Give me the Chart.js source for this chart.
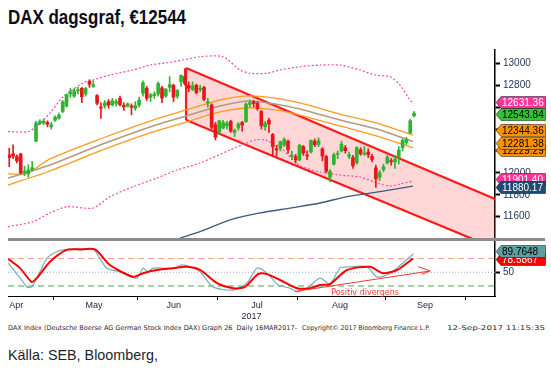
<!DOCTYPE html>
<html>
<head>
<meta charset="utf-8">
<script src="https://cdn.jsdelivr.net/npm/chart.js@4.4.1/dist/chart.umd.min.js"></script>
<style>
html,body{margin:0;padding:0;background:#fff;}
body{width:551px;height:379px;position:relative;overflow:hidden;}
.t{position:absolute;white-space:nowrap;transform-origin:0 50%;}
#title{left:8px;top:7px;font:bold 20px/20px "Liberation Sans Narrow","Liberation Sans",Arial,sans-serif;color:#0d0d1a;}
#src{left:8px;top:347px;font:15px/15px "Liberation Sans Narrow","Liberation Sans",Arial,sans-serif;color:#1e1e2a;}
.ft{top:325px;font:6.5px/7px "DejaVu Sans",sans-serif;color:#2a2a2a;}
#sep{position:absolute;left:8px;top:238px;width:537px;height:3px;background:#8c8c8c;}
canvas{position:absolute;left:0;}
#c1{top:0}
#c2{top:241px}
</style>
</head>
<body>
<div id="title" class="t" data-w="178">DAX dagsgraf, €12544</div>
<canvas id="c1" width="551" height="238"></canvas>
<div id="sep"></div>
<canvas id="c2" width="551" height="81"></canvas>
<div class="t ft" style="left:8px" data-w="289">DAX Index (Deutsche Boerse AG German Stock Index DAX) Graph 26&nbsp; Daily 16MAR2017-</div>
<div class="t ft" style="left:302px" data-w="128">Copyright© 2017 Bloomberg Finance L.P.</div>
<div class="t ft" style="left:447px" data-w="98">12-Sep-2017 11:15:35</div>
<div id="src" class="t" data-w="150">Källa: SEB, Bloomberg,</div>
<script>
// ---------- DATA ----------
const tradingDays = ['04-11','04-12','04-13','04-18','04-19','04-20','04-21','04-24','04-25','04-26','04-27','04-28',
 '05-02','05-03','05-04','05-05','05-08','05-09','05-10','05-11','05-12','05-15','05-16','05-17','05-18','05-19','05-22','05-23','05-24','05-25','05-26','05-29','05-30','05-31',
 '06-01','06-02','06-06','06-07','06-08','06-09','06-12','06-13','06-14','06-15','06-16','06-19','06-20','06-21','06-22','06-23','06-26','06-27','06-28','06-29','06-30',
 '07-03','07-04','07-05','07-06','07-07','07-10','07-11','07-12','07-13','07-14','07-17','07-18','07-19','07-20','07-21','07-24','07-25','07-26','07-27','07-28','07-31',
 '08-01','08-02','08-03','08-04','08-07','08-08','08-09','08-10','08-11','08-14','08-15','08-16','08-17','08-18','08-21','08-22','08-23','08-24','08-25','08-28','08-29','08-30','08-31',
 '09-01','09-04','09-05','09-06','09-07','09-08','09-11','09-12'];

const openP = [12163,12175,12148,12172,12005,11990,12030,12290,12450,12455,12460,12420,
 12480,12500,12560,12610,12720,12700,12750,12772,12720,12835,12790,12705,12600,12610,12650,12620,12635,12680,12615,12610,12610,12590,
 12620,12726,12772,12690,12705,12720,12775,12700,12780,12800,12700,12832,12880,12800,12760,12800,12760,12780,12640,12620,12440,
 12370,12410,12430,12470,12370,12410,12460,12467,12625,12650,12635,12560,12420,12480,12350,12220,12224,12254,12290,12150,12150,
 12117,12240,12160,12190,12290,12260,12220,12150,11960,12080,12170,12200,12230,12150,12140,12090,12210,12170,12190,12150,12045,11960,12030,
 12090,12110,12100,12135,12230,12275,12363,12520];
const highP = [12224,12256,12165,12180,12060,12075,12105,12470,12485,12490,12475,12460,
 12520,12545,12660,12720,12770,12770,12780,12780,12780,12850,12841,12715,12640,12660,12670,12680,12670,12700,12640,12640,12630,12650,
 12690,12840,12790,12725,12740,12830,12790,12770,12878,12810,12760,12895,12951,12830,12830,12810,12800,12790,12680,12630,12460,
 12480,12480,12470,12480,12400,12460,12470,12640,12665,12660,12650,12570,12470,12500,12360,12250,12290,12320,12300,12200,12170,
 12260,12250,12200,12300,12310,12320,12230,12160,12030,12180,12200,12290,12250,12190,12160,12240,12230,12240,12220,12170,12070,12020,12080,
 12160,12130,12160,12240,12310,12325,12490,12560];
const lowP = [12056,12130,12090,11990,11975,11960,12015,12285,12440,12440,12420,12400,
 12470,12490,12550,12600,12690,12690,12720,12640,12700,12780,12780,12620,12498,12590,12590,12610,12610,12610,12570,12600,12530,12570,
 12600,12700,12660,12650,12680,12700,12640,12690,12740,12650,12680,12790,12800,12740,12750,12720,12740,12660,12600,12400,12300,
 12350,12400,12400,12370,12330,12390,12380,12460,12600,12600,12570,12400,12390,12370,12148,12150,12200,12240,12180,12120,12090,
 12110,12160,12120,12180,12240,12240,12110,12000,11920,12070,12130,12190,12180,12130,12040,12080,12160,12160,12140,12100,11868,11930,12010,
 12080,12070,12040,12080,12200,12260,12360,12510];
const closeP = [12139,12150,12109,12000,12016,12027,12048,12455,12467,12472,12443,12438,
 12507,12527,12648,12716,12740,12749,12757,12695,12770,12808,12804,12635,12590,12638,12619,12659,12650,12622,12602,12629,12599,12615,
 12664,12822,12680,12714,12720,12815,12683,12765,12806,12691,12753,12889,12814,12774,12794,12733,12771,12671,12647,12416,12325,
 12475,12460,12453,12381,12389,12445,12437,12627,12641,12632,12587,12430,12452,12447,12240,12209,12285,12305,12212,12162,12118,
 12251,12181,12154,12298,12258,12293,12154,12014,12014,12165,12177,12263,12203,12166,12065,12229,12174,12180,12168,12123,11946,12002,12056,
 12143,12102,12124,12208,12297,12304,12476,12544];

// sparse line readings: [dayIndex, value]
const maMid   = [[-0.33,11953],[10.67,12072],[23.77,12254],[36.86,12419],[46.29,12519],[55.2,12610],[62.3,12656],[69.6,12629],[76.1,12583],[86.6,12483],[97.1,12391],[105.7,12284]];
const maUpper = [[-0.33,11990],[4.64,11996],[10.67,12127],[23.77,12309],[36.86,12473],[46.29,12574],[55.2,12665],[62.3,12702],[69.6,12683],[76.1,12638],[86.6,12537],[97.1,12446],[105.7,12344]];
const maLower = [[-0.33,11889],[10.67,12017],[23.77,12200],[36.86,12364],[46.29,12464],[55.2,12556],[62.3,12592],[69.6,12574],[76.1,12528],[86.6,12428],[97.1,12327],[105.7,12229]];
const bbUpper = [[-0.33,12376],[4.9,12376],[7.26,12428],[10.67,12546],[14.07,12692],[19.31,12820],[21.93,12848],[26.38,12893],[32.41,12939],[36.86,12984],[41.31,13005],[45.5,13030],[49.95,13060],[55.98,13060],[60.43,12939],[63.05,12909],[67.5,12909],[70.9,12939],[76.15,12969],[81.4,12984],[86.6,12984],[91.9,12939],[95.8,12893],[99.72,12878],[102.3,12802],[104.97,12665],[106,12631]];
const bbLower = [[-0.33,11509],[6.21,11554],[10.67,11634],[15.12,11691],[21.93,11679],[26.38,11783],[32.41,11874],[38.69,11953],[43.93,12026],[49.95,12090],[57.81,12209],[64.36,12300],[66.98,12300],[70.9,12236],[73.53,12145],[76.15,12063],[81.4,12008],[86.6,11980],[91.86,11962],[97.1,11898],[99.72,11880],[102.3,11898],[105.7,11926]];
const ma200   = [[44.72,11405],[49.95,11463],[57.81,11570],[65.67,11634],[73.53,11679],[81.4,11725],[88.46,11783],[97.1,11828],[105.7,11880]];
const channelUpper = [[46.3,12957],[127.2,11762]];
const channelLower = [[46.3,12483],[127.2,11312]];

const stochK = [[-0.25,70],[3.6,29],[4.57,18],[5.87,18],[8.05,51],[9.8,80],[12.42,95],[15.04,100],[22,100],[23.76,80],[25.52,59],[29,51],[33.38,37],[35.03,59],[36.34,51],[37.64,59],[40.26,59],[43.41,59],[45.16,66],[47.34,62],[49.95,51],[53.36,18],[58.6,11],[62.19,26],[64.81,59],[66.46,55],[68.74,37],[70.39,22],[73.53,15],[75.28,7],[77.9,15],[81.4,37],[84,24],[86.6,59],[89.2,62],[93.6,62],[96.2,40],[98.86,44],[101.5,59],[105.8,90]];
const stochD = [[-0.25,79],[2.81,59],[5.87,29],[7.18,37],[10.67,73],[15.04,99],[18.53,100],[22.45,100],[26.38,66],[32.41,40],[35.03,48],[38.69,55],[42.88,59],[46.55,62],[49.95,55],[54.41,26],[58.6,15],[61.74,18],[65.15,46],[67.5,46],[70.9,33],[75.36,15],[78.77,15],[81.4,22],[84,24],[88.46,55],[94.48,62],[97.88,48],[101.55,55],[105.7,80]];
const divergenceLine = [[74.8,7.9],[110.2,52.8]];
const divergenceHead = [[107.1,62.2],[110.2,52.8],[108,45.5]];
const stochLevels = [80, 50, 20];

const priceTicks = [11600,11800,12000,12200,12400,12600,12800,13000];
const stochTicks = [50];
const monthBounds = [11.5,33.5,54.5,75.5,98.5,119.5];
const monthLabels = ['Apr','May','Jun','Jul','Aug','Sep'];
const monthLabelPos = [1.8,22.2,43.1,64.9,86.6,108.9];

const priceTagValues = [12631.36,12543.84,12344.36,12229.29,12281.38,11901.40,11880.17];
const stochTagValues = [78.5867,89.7648];

const X_MIN = -0.33, X_MAX = 127.2;
const Y_MIN = 11405.6, Y_MAX = 13121.4;
const S_MIN = -2, S_MAX = 118.5;

// ---------- STYLE ----------
const GREEN = '#2db52d', RED = '#e8161b';
const FONT = '"Liberation Sans", Arial, sans-serif';
const pts = a => a.map(p => ({x:p[0], y:p[1]}));
function line(data, color, width, dash, order, extra){
  return Object.assign({type:'line', data:pts(data), borderColor:color, borderWidth:width, borderDash:dash||[],
    pointRadius:0, fill:false, tension:0.25, order:order}, extra||{});
}
const candleColor = ctx => (closeP[ctx.dataIndex] >= openP[ctx.dataIndex] ? GREEN : RED);

const tagPlugin = {
  id:'tags',
  afterDraw(chart, args, o){
    const s = chart.scales[o.scaleId], c = chart.ctx;
    c.save();
    c.font = '10px ' + FONT;
    c.textBaseline = 'middle';
    o.items.forEach(t => {
      const cy = Math.round(s.getPixelForValue(t.value) + (t.dy||0)) + 0.5;
      const x0 = s.left + 1, x1 = x0 + 5, x2 = 545.5, h = 6;
      c.beginPath(); c.moveTo(x0, cy); c.lineTo(x1, cy-h); c.lineTo(x2, cy-h); c.lineTo(x2, cy+h); c.lineTo(x1, cy+h); c.closePath();
      c.fillStyle = t.bg; c.fill();
      c.strokeStyle = 'rgba(0,0,0,0.45)'; c.lineWidth = 1; c.stroke();
      c.fillStyle = t.fg; c.textAlign = 'left';
      c.fillText(t.text, x1 + 1, cy + 0.5);
    });
    c.restore();
  }
};
const notePlugin = {
  id:'notes',
  afterDatasetsDraw(chart, args, o){
    const c = chart.ctx;
    c.save();
    (o.items||[]).forEach(n => {
      c.font = n.font; c.fillStyle = n.color; c.textBaseline = 'middle'; c.textAlign = 'left';
      c.fillText(n.text, chart.scales.x.getPixelForValue(n.x), chart.scales[n.scale].getPixelForValue(n.y));
    });
    c.restore();
  }
};

// ---------- MAIN PRICE CHART ----------
const idx = closeP.map((_, i) => i);
const wickData = idx.map(i => ({x:i, y:[lowP[i], highP[i]]}));
const bodyData = idx.map(i => ({x:i, y:[Math.min(openP[i], closeP[i]), Math.max(openP[i], closeP[i])]}));

const mainDatasets = [
  line(channelUpper, '#ff1a1a', 2.2, null, 20, {tension:0}),
  line(channelLower, '#ff1a1a', 2.2, null, 19, {tension:0, fill:{target:0}, backgroundColor:'rgba(255,45,45,0.19)'}),
  line([[channelUpper[0][0], channelUpper[0][1]],[channelLower[0][0], channelLower[0][1]]], '#ff1a1a', 2.2, null, 18, {tension:0}),
  line(bbUpper, '#f54aa8', 1.2, [2,2], 9),
  line(bbLower, '#f54aa8', 1.2, [2,2], 9),
  line(maUpper, '#ff9a1f', 1.3, null, 8),
  line(maLower, '#ff9a1f', 1.3, null, 8),
  line(maMid, '#b49a80', 1.6, null, 7),
  line(ma200, '#3a5a80', 1.3, null, 6),
  {type:'bar', data:wickData, backgroundColor:candleColor, barThickness:1, grouped:false, order:2},
  {type:'bar', data:bodyData, backgroundColor:candleColor, barThickness:3, grouped:false, minBarLength:1, order:1}
];

new Chart(document.getElementById('c1'), {
  type:'line',
  data:{datasets:mainDatasets},
  plugins:[tagPlugin],
  options:{
    responsive:false, animation:false, devicePixelRatio:1,
    layout:{padding:{left:8, top:50, right:0, bottom:0}},
    plugins:{legend:{display:false}, tooltip:{enabled:false},
      tags:{scaleId:'y', items:[
        {value:priceTagValues[0], text:priceTagValues[0].toFixed(2), bg:'#ff3399', fg:'#fff', dy:-2},
        {value:priceTagValues[1], text:priceTagValues[1].toFixed(2), bg:'#33c433', fg:'#000', dy:0.5},
        {value:priceTagValues[2], text:priceTagValues[2].toFixed(2), bg:'#ff9100', fg:'#000', dy:-5},
        {value:priceTagValues[3], text:priceTagValues[3].toFixed(2), bg:'#ff9100', fg:'#000', dy:2},
        {value:priceTagValues[4], text:priceTagValues[4].toFixed(2), bg:'#ff9100', fg:'#000', dy:1},
        {value:priceTagValues[5], text:priceTagValues[5].toFixed(2), bg:'#ff3399', fg:'#fff', dy:-5},
        {value:priceTagValues[6], text:priceTagValues[6].toFixed(2), bg:'#1f4a73', fg:'#fff', dy:1}
      ]}},
    scales:{
      x:{type:'linear', min:X_MIN, max:X_MAX, display:false, offset:false},
      y:{position:'right', min:Y_MIN, max:Y_MAX,
        afterBuildTicks: s => { s.ticks = priceTicks.map(v => ({value:v})); },
        afterFit: s => { s.width = 56; s.paddingTop = 0; s.paddingBottom = 0; },
        grid:{drawOnChartArea:false, drawTicks:true, tickLength:5, tickWidth:2, tickColor:'#000'},
        border:{display:true, color:'#000', width:1.5},
        ticks:{color:'#1b3355', font:{family:FONT, size:10}, padding:3, callback: v => String(v)}
      }
    }
  }
});

// ---------- STOCHASTIC CHART ----------
const xTickVals = monthBounds.concat(monthLabelPos).sort((a,b) => a-b);
const labelMap = new Map(monthLabelPos.map((v,i) => [v, monthLabels[i]]));
const levelStyles = [['#f5a088',[6,4]],['#9aacbf',[1,2]],['#4aa84a',[6,4]]];

const stochDatasets = stochLevels.map((lv, i) => line([[X_MIN, lv],[X_MAX, lv]], levelStyles[i][0], 1, levelStyles[i][1], 10, {tension:0}));
stochDatasets.push(
  line(stochK, '#78aeb0', 1.2, null, 3),
  line(stochD, '#ff0000', 2, null, 2),
  line(divergenceLine, '#ff3333', 1, null, 1, {tension:0}),
  line(divergenceHead, '#ff3333', 1, null, 1, {tension:0})
);

new Chart(document.getElementById('c2'), {
  type:'line',
  data:{datasets:stochDatasets},
  plugins:[tagPlugin, notePlugin],
  options:{
    responsive:false, animation:false, devicePixelRatio:1,
    layout:{padding:{left:8, top:0, right:0, bottom:0}},
    plugins:{legend:{display:false}, tooltip:{enabled:false},
      tags:{scaleId:'y', items:[
        {value:stochTagValues[0], text:stochTagValues[0].toFixed(4), bg:'#ff0000', fg:'#fff', dy:0},
        {value:stochTagValues[1], text:stochTagValues[1].toFixed(4), bg:'#5f9ea0', fg:'#000', dy:-3}
      ]},
      notes:{items:[{text:'Positiv divergens', x:84.3, y:5.3, scale:'y', color:'#ff3a3a', font:'8px "DejaVu Sans", sans-serif'}]}
    },
    scales:{
      x:{type:'linear', min:X_MIN, max:X_MAX, offset:false,
        afterBuildTicks: s => { s.ticks = xTickVals.map(v => ({value:v})); },
        afterFit: s => { s.height = 26; s.paddingLeft = 0; s.paddingRight = 0; },
        grid:{drawOnChartArea:false, drawTicks:true, tickLength:4, tickWidth:1,
          tickColor: ctx => (ctx.tick && labelMap.has(ctx.tick.value)) ? 'rgba(0,0,0,0)' : '#000'},
        border:{display:true, color:'#000', width:1},
        ticks:{autoSkip:false, maxRotation:0, padding:0, color:'#1a2140', font:{family:FONT, size:9},
          callback: v => labelMap.get(v) || ''},
        title:{display:true, text:'2017', color:'#1a2140', font:{family:FONT, size:9}, padding:0}
      },
      y:{position:'right', min:S_MIN, max:S_MAX,
        afterBuildTicks: s => { s.ticks = stochTicks.map(v => ({value:v})); },
        afterFit: s => { s.width = 56; s.paddingTop = 0; s.paddingBottom = 0; },
        grid:{drawOnChartArea:false, drawTicks:true, tickLength:5, tickWidth:2, tickColor:'#000'},
        border:{display:true, color:'#000', width:1.5},
        ticks:{color:'#1b3355', font:{family:FONT, size:10}, padding:3, callback: v => String(v)}
      }
    }
  }
});

// fit text widths
function fitText(){
  document.querySelectorAll('.t').forEach(el => {
    el.style.transform = 'none';
    const w = el.getBoundingClientRect().width;
    const tw = +el.dataset.w;
    if (w > 0) el.style.transform = 'scaleX(' + (tw / w) + ')';
  });
}
fitText();
if (document.fonts && document.fonts.ready) document.fonts.ready.then(fitText);
</script>
</body>
</html>
